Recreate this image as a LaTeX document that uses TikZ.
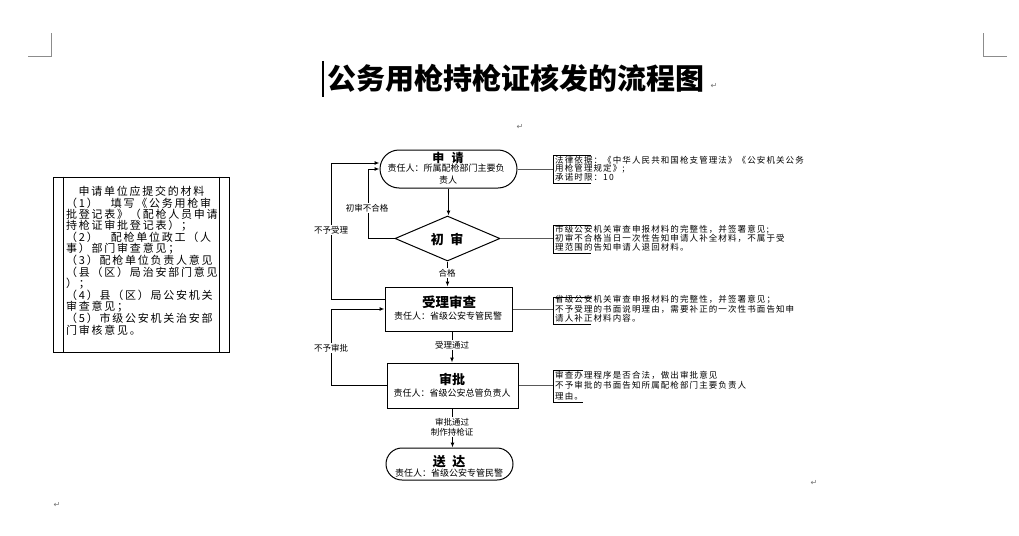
\documentclass[tikz,border=0pt]{standalone}
\usepackage{fontspec}
\setmainfont{Noto Sans CJK SC}
\newfontfamily\cjkls[LetterSpace=16]{Noto Sans CJK SC}
\newfontfamily\cjkc[LetterSpace=13]{Noto Sans CJK SC}
\newfontfamily\djv{DejaVu Sans}
\usetikzlibrary{shapes.geometric,arrows.meta,calc}
\tikzset{
 shp/.style={draw=black, line width=1pt, inner sep=0pt, fill=white},
 flow/.style={line width=1pt, draw=black},
 arr/.style={flow, -{Latex[length=5pt,width=4pt]}},
 lbl/.style={font=\fontsize{8.5}{10}\selectfont, fill=white, inner sep=1pt, align=center},
 ttl/.style={font=\bfseries\fontsize{13}{13}\selectfont, inner sep=0pt},
 sub/.style={font=\fontsize{9}{9}\selectfont, inner sep=0pt},
 call/.style={draw=black, line width=0.9pt},
 link/.style={draw=black!65, line width=1pt},
 ctext/.style={anchor=west, inner sep=0pt, font=\cjkc\fontsize{8.5}{9}\selectfont},
 ltext/.style={anchor=west, inner sep=0pt, font=\cjkls\fontsize{11}{12}\selectfont},
 pm/.style={font=\djv\fontsize{8}{8}\selectfont, text=black!55, inner sep=0pt},
 crop/.style={draw=black!45, line width=0.8pt},
}
\begin{document}
\begin{tikzpicture}[x=1pt,y=-1pt]
\useasboundingbox[fill=white] (0,0) rectangle (1019,535);
% page marks
\draw[crop] (28,56) -- (51,56) -- (51,33);
\draw[crop] (1007,56) -- (983,56) -- (983,33);
% title
\draw[line width=2pt] (323,61) -- (323,97);
\node[font=\bfseries\fontsize{29}{29}\selectfont, inner sep=0pt] (title) at (516,78) {公务用枪持枪证核发的流程图};
\node[pm] (pm1) at (714,86) {↵};
\node[pm] (pm2) at (520,127) {↵};
\node[pm] (pm3) at (814,483) {↵};
\node[pm] (pm4) at (57,505) {↵};

% left box
\node[draw=black, line width=1pt, minimum width=176pt, minimum height=175pt, inner sep=0pt] (lb) at (141,264.5) {};
\draw[line width=1pt] ($(lb.north west)+(11,0)$) -- ($(lb.south west)+(11,0)$);
\draw[line width=1pt] ($(lb.north east)+(-10,0)$) -- ($(lb.south east)+(-10,0)$);
\node[ltext, anchor=center] (t0) at (141.5,191) {申请单位应提交的材料};
\node[ltext] (t1) at (66,203) {（1）\hspace{13pt}填写《公务用枪审};
\node[ltext] (t2) at (66,214.5) {批登记表》（配枪人员申请};
\node[ltext] (t3) at (66,226) {持枪证审批登记表）；};
\node[ltext] (t4) at (66,237.5) {（2）\hspace{13pt}配枪单位政工（人};
\node[ltext] (t5) at (66,249) {事）部门审查意见；};
\node[ltext] (t6) at (66,260.5) {（3）配枪单位负责人意见};
\node[ltext] (t7) at (66,272) {（县（区）局治安部门意见};
\node[ltext] (t8) at (66,283.5) {）；};
\node[ltext] (t9) at (66,295) {（4）县（区）局公安机关};
\node[ltext] (t10) at (66,306.5) {审查意见；};
\node[ltext] (t11) at (66,318) {（5）市级公安机关治安部};
\node[ltext] (t12) at (66,330) {门审核意见。};

% flow shapes
\node[shp, rounded corners=19pt, minimum width=137pt, minimum height=38pt] (sq) at (448.5,169) {};
\node[ttl, font=\bfseries\fontsize{12}{12}\selectfont] (sqt) at (448,158) {申\hspace{0.6em}请};
\node[sub] (sq1) at (446,168) {责任人：所属配枪部门主要负};
\node[sub] (sq2) at (448,180) {责人};

\node[shp, diamond, minimum width=105pt, minimum height=45pt] (cs) at (447.5,238.5) {};
\node[ttl] (cst) at (447,239) {初\hspace{0.5em}审};

\node[shp, minimum width=127pt, minimum height=44pt] (sl) at (448.5,309) {};
\node[ttl, font=\bfseries\fontsize{13.5}{13.5}\selectfont] (slt) at (449,302) {受理审查};
\node[sub] (sl1) at (448,316) {责任人：省级公安专管民警};

\node[shp, minimum width=131pt, minimum height=45pt] (sp) at (452.5,385.5) {};
\node[ttl] (spt) at (452,379) {审批};
\node[sub] (sp1) at (452,393) {责任人：省级公安总管负责人};

\node[shp, rounded corners=16pt, minimum width=127pt, minimum height=32pt] (sd) at (449.5,464) {};
\node[ttl] (sdt) at (449,461.5) {送\hspace{0.5em}达};
\node[sub] (sd1) at (449,473) {责任人：省级公安专管民警};

% main arrows
\draw[arr] (sq.south) -- (sq.south |- cs.north);
\draw[arr] (cs.south) -- (cs.south |- sl.north);
\draw[arr] ([xshift=3.5pt]sl.south) -- ([xshift=3.5pt]sl.south |- sp.north);
\draw[arr] (sp.south) -- (sp.south |- sd.north);

% loops
\coordinate (l1) at (368,0);
\coordinate (l2) at (331,0);
\coordinate (sqin) at ($(sq.west)+(0,-6)$);
\coordinate (slout) at ($(sl.west)+(0,-10)$);
\draw[arr] (cs.west) -- (cs.west -| l1) |- (sq.west);
\draw[arr] (slout) -- (slout -| l2) |- (sqin);
\draw[arr] (sp.west) -- (sp.west -| l2) |- (sl.west);

% labels
\node[lbl] (lb1) at (367,208) {初审不合格};
\node[lbl] (lb2) at (331,230) {不予受理};
\node[lbl] (lb3) at (447,273) {合格};
\node[lbl] (lb4) at (331,348) {不予审批};
\node[lbl] (lb5) at (452,345) {受理通过};
\node[lbl] (lb6) at (452,427) {审批通过\\制作持枪证};

% callouts
\coordinate (c1) at (553,169);
\coordinate (c2) at (553,239);
\coordinate (c3) at (553,310.5);
\coordinate (c4) at (553,386);
\draw[link] (sq.east) -- (sq.east -| c1);
\draw[link] (cs.east) -- (cs.east -| c2);
\draw[link] (sl.east) -- (sl.east -| c3);
\draw[link] (sp.east) -- (sp.east -| c4);
\draw[call] ($(c1)+(38,-14)$) -- ($(c1)+(0,-14)$) -- ($(c1)+(0,14)$) -- ($(c1)+(38,14)$);
\draw[call] ($(c2)+(38,-14)$) -- ($(c2)+(0,-14)$) -- ($(c2)+(0,14)$) -- ($(c2)+(38,14)$);
\draw[call] ($(c3)+(38,-13.5)$) -- ($(c3)+(0,-13.5)$) -- ($(c3)+(0,13.5)$) -- ($(c3)+(38,13.5)$);
\draw[call] ($(c4)+(30,-16)$) -- ($(c4)+(0,-16)$) -- ($(c4)+(0,16)$) -- ($(c4)+(30,16)$);

\node[ctext] (a1) at (555,160) {法律依据：《中华人民共和国枪支管理法》《公安机关公务};
\node[ctext] (a2) at (555,168.5) {用枪管理规定》;};
\node[ctext] (a3) at (555,177) {承诺时限：10};
\node[ctext] (b1) at (555,229.5) {市级公安机关审查申报材料的完整性，并签署意见;};
\node[ctext] (b2) at (555,238.5) {初审不合格当日一次性告知申请人补全材料，不属于受};
\node[ctext] (b3) at (555,247.5) {理范围的告知申请人退回材料。};
\node[ctext] (d1) at (555,300) {省级公安机关审查申报材料的完整性，并签署意见；};
\node[ctext] (d2) at (555,309) {不予受理的书面说明理由，需要补正的一次性书面告知申};
\node[ctext] (d3) at (555,318) {请人补正材料内容。};
\node[ctext] (e1) at (555,375) {审查办理程序是否合法，做出审批意见};
\node[ctext] (e2) at (555,385.5) {不予审批的书面告知所属配枪部门主要负责人};
\node[ctext] (e3) at (555,396) {理由。};
\end{tikzpicture}
\end{document}
